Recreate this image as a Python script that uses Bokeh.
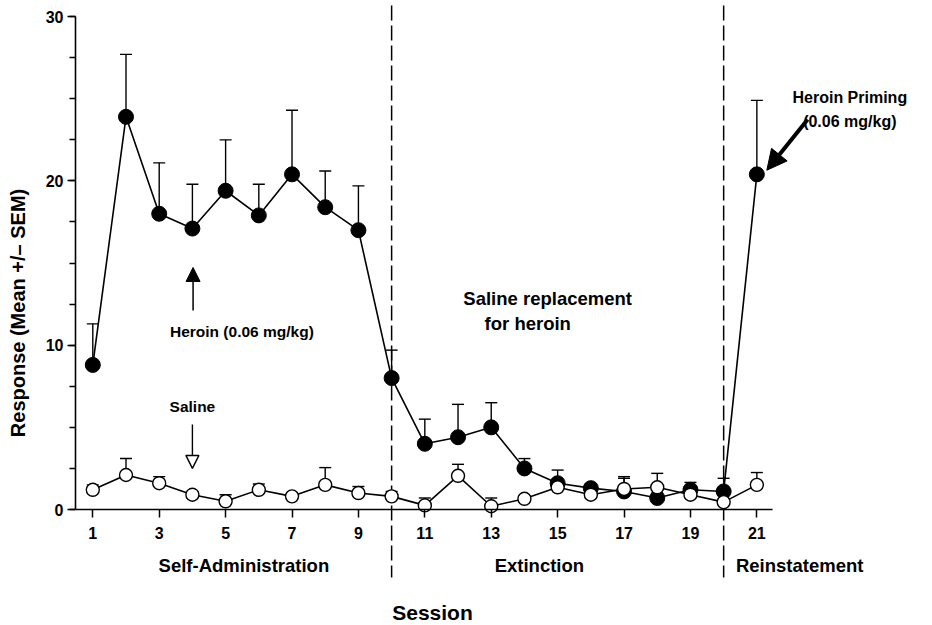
from bokeh.plotting import figure
from bokeh.models import FixedTicker, Label, Arrow, NormalHead
from bokeh.embed import file_html
from bokeh.resources import INLINE

# Session-by-session responding (mean and SEM)
sessions = list(range(1, 22))
heroin_mean = [8.8, 23.9, 18.0, 17.1, 19.4, 17.9, 20.4, 18.4, 17.0, 8.0,
               4.0, 4.4, 5.0, 2.5, 1.6, 1.3, 1.1, 0.7, 1.2, 1.1, 20.4]
heroin_sem = [2.5, 3.8, 3.1, 2.7, 3.1, 1.9, 3.9, 2.2, 2.7, 1.7,
              1.5, 2.0, 1.5, 0.6, 0.8, 0.25, 0.9, 0.3, 0.45, 0.8, 4.5]
saline_mean = [1.2, 2.1, 1.6, 0.9, 0.5, 1.2, 0.8, 1.5, 1.0, 0.8,
               0.25, 2.05, 0.2, 0.65, 1.35, 0.9, 1.25, 1.35, 0.9, 0.45, 1.5]
saline_sem = [0.3, 1.0, 0.4, 0.2, 0.4, 0.35, 0.2, 1.05, 0.4, 0.3,
              0.45, 0.7, 0.5, 0.2, 0.3, 0.6, 0.65, 0.85, 0.5, 0.2, 0.75]

x_ticks = list(range(1, 22, 2))
y_ticks = [0, 10, 20, 30]
y_minor_ticks = [2.5 * i for i in range(13)]
phase_breaks = [10, 20]
phase_names = ["Self-Administration", "Extinction", "Reinstatement"]
phase_centers = [5.55, 14.45, 22.29]

FONT = "Liberation Sans"

heroin_upper = [m + s for m, s in zip(heroin_mean, heroin_sem)]
saline_upper = [m + s for m, s in zip(saline_mean, saline_sem)]

p = figure(width=932, height=625,
           x_range=(0.479, 26.29), y_range=(-7.06, 30.98),
           output_backend="svg", toolbar_location=None,
           min_border_left=75, min_border_right=0,
           min_border_top=0, min_border_bottom=0,
           background_fill_color="white", border_fill_color="white")
p.outline_line_color = None
p.grid.visible = False

# x axis sits on y = 0 inside the frame
xax = p.xaxis[0]
xax.fixed_location = 0
xax.bounds = (0.479, 21.46)
xax.ticker = FixedTicker(ticks=x_ticks, minor_ticks=[])
xax.major_tick_out = 8
xax.major_tick_in = 0
xax.minor_tick_out = 0
xax.minor_tick_in = 0
xax.axis_line_width = 1.6
xax.major_tick_line_width = 1.5
xax.major_label_standoff = 9
xax.major_label_text_font = FONT
xax.major_label_text_font_style = "bold"
xax.major_label_text_font_size = "16px"
xax.major_label_text_color = "black"

yax = p.yaxis[0]
yax.bounds = (0, 30)
yax.ticker = FixedTicker(ticks=y_ticks, minor_ticks=y_minor_ticks)
yax.major_tick_out = 8
yax.major_tick_in = 0
yax.minor_tick_out = 6
yax.minor_tick_in = 0
yax.axis_line_width = 1.6
yax.major_tick_line_width = 1.5
yax.minor_tick_line_width = 1.3
yax.major_label_standoff = 4
yax.major_label_text_font = FONT
yax.major_label_text_font_style = "bold"
yax.major_label_text_font_size = "16px"
yax.major_label_text_color = "black"
yax.axis_label = "Response (Mean +/\u2013 SEM)"
yax.axis_label_text_font = FONT
yax.axis_label_text_font_style = "bold"
yax.axis_label_text_font_size = "20px"
yax.axis_label_text_color = "black"
yax.axis_label_standoff = 14

# phase boundaries
for b in phase_breaks:
    p.segment(x0=[b], y0=[30.67], x1=[b], y1=[-4.14],
              line_color="black", line_width=1.5, line_dash="15 5")

# heroin group
p.line(sessions, heroin_mean, line_color="black", line_width=1.6)
p.segment(x0=sessions, y0=heroin_mean, x1=sessions, y1=heroin_upper,
          line_color="black", line_width=1.4)
p.scatter(sessions, heroin_upper, marker="dash", size=12,
          line_color="black", line_width=1.4)
p.scatter(sessions, heroin_mean, marker="circle", size=15,
          fill_color="black", line_color="black")

# saline group
p.line(sessions, saline_mean, line_color="black", line_width=1.6)
p.segment(x0=sessions, y0=saline_mean, x1=sessions, y1=saline_upper,
          line_color="black", line_width=1.4)
p.scatter(sessions, saline_upper, marker="dash", size=12,
          line_color="black", line_width=1.4)
p.scatter(sessions, saline_mean, marker="circle", size=13,
          fill_color="white", line_color="black", line_width=1.4)


def add_text(x, y, text, size="15px", align="center"):
    p.add_layout(Label(x=x, y=y, text=text, text_font=FONT,
                       text_font_style="bold", text_font_size=size,
                       text_color="black", text_align=align,
                       text_baseline="middle"))


# annotations
add_text(5.49, 10.83, "Heroin (0.06 mg/kg)", "15.5px")
p.add_layout(Arrow(x_start=4.02, y_start=12.11, x_end=4.02, y_end=14.73,
                   line_color="black", line_width=1.5,
                   end=NormalHead(size=14, fill_color="black",
                                  line_color="black")))
add_text(4.0, 6.27, "Saline", "15.5px")
p.add_layout(Arrow(x_start=4.0, y_start=5.17, x_end=4.0, y_end=2.5,
                   line_color="black", line_width=1.4,
                   end=NormalHead(size=13, fill_color="white",
                                  line_color="black", line_width=1.4)))
add_text(12.16, 12.84, "Saline replacement", "18.5px", "left")
add_text(12.80, 11.32, "for heroin", "18.5px", "left")
add_text(23.80, 25.08, "Heroin Priming", "16px")
add_text(23.80, 23.62, "(0.06 mg/kg)", "16px")
p.add_layout(Arrow(x_start=22.53, y_start=23.74, x_end=21.30, y_end=20.65,
                   line_color="black", line_width=4,
                   end=NormalHead(size=20, fill_color="black",
                                  line_color="black")))

for name, cx in zip(phase_names, phase_centers):
    add_text(cx, -3.41, name, "18.5px")
add_text(11.23, -6.27, "Session", "21px")

open("out.html", "w").write(file_html(p, INLINE))
